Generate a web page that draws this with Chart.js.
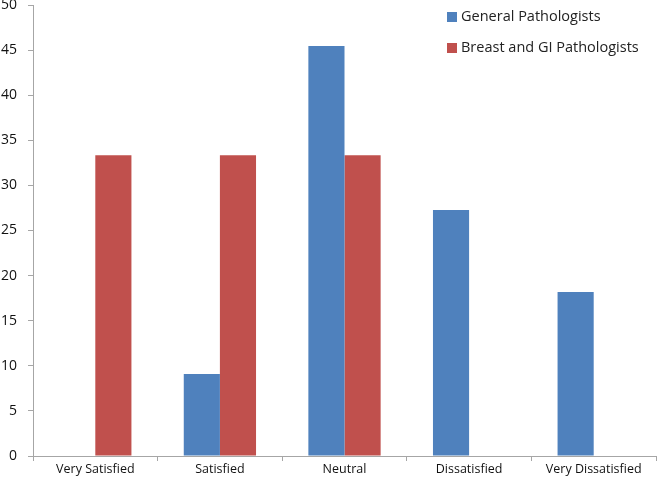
<!DOCTYPE html>
<html>
<head>
<meta charset="utf-8">
<script src="https://cdn.jsdelivr.net/npm/chart.js@4/dist/chart.umd.min.js"></script>
<style>
    html, body { margin: 0; padding: 0; background: #fff; }
    #wrap { width: 660px; height: 482px; }
</style>
</head>
<body>
<div id="wrap"><canvas id="satisfactionChart"></canvas></div>
<script>
const categories = ['Very Satisfied', 'Satisfied', 'Neutral', 'Dissatisfied', 'Very Dissatisfied'];
const generalValues = [0, 9.09, 45.45, 27.27, 18.18];
const breastGiValues = [33.33, 33.33, 33.33, 0, 0];
const seriesNames = ['General Pathologists', 'Breast and GI Pathologists'];
const seriesColors = ['#4F81BD', '#C0504D'];

// legend drawn in the top right corner, over the plot
const cornerLegend = {
    id: 'cornerLegend',
    afterDraw(chart) {
        const ctx = chart.ctx;
        ctx.save();
        ctx.font = '14.5px "Open Sans"';
        ctx.textBaseline = 'middle';
        seriesNames.forEach((name, i) => {
            const y = 17 + i * 31;
            ctx.fillStyle = seriesColors[i];
            ctx.fillRect(447, y - 5, 10, 10);
            ctx.fillStyle = '#222';
            ctx.fillText(name, 461, y);
        });
        ctx.restore();
    }
};

const ctx = document.getElementById('satisfactionChart').getContext('2d');
new Chart(ctx, {
    type: 'bar',
    data: {
        labels: categories,
        datasets: [
            {
                label: seriesNames[0],
                data: generalValues,
                backgroundColor: seriesColors[0],
                borderWidth: 0
            },
            {
                label: seriesNames[1],
                data: breastGiValues,
                backgroundColor: seriesColors[1],
                borderWidth: 0
            }
        ]
    },
    options: {
        responsive: true,
        maintainAspectRatio: false,
        animation: false,
        datasets: {
            bar: {
                categoryPercentage: 0.58,
                barPercentage: 1
            }
        },
        layout: {
            padding: { top: 5, right: 4, left: 0, bottom: 0 }
        },
        scales: {
            x: {
                afterFit(scale) {
                    scale.height = 26;
                    scale.paddingLeft = 0;
                    scale.paddingRight = 0;
                },
                border: { display: true, color: '#a6a6a6' },
                grid: {
                    drawOnChartArea: false,
                    drawTicks: true,
                    tickLength: 5,
                    color: '#a6a6a6'
                },
                ticks: {
                    color: '#111',
                    padding: 1,
                    maxRotation: 0,
                    font: { family: 'Open Sans', size: 12.5 }
                }
            },
            y: {
                min: 0,
                max: 50,
                afterFit(scale) {
                    scale.width = 33;
                    scale.paddingTop = 0;
                    scale.paddingBottom = 0;
                },
                border: { display: true, color: '#a6a6a6' },
                grid: {
                    drawOnChartArea: false,
                    drawTicks: true,
                    tickLength: 5,
                    color: '#a6a6a6'
                },
                ticks: {
                    stepSize: 5,
                    color: '#111',
                    padding: 11,
                    font: { family: 'Open Sans', size: 14 }
                }
            }
        },
        plugins: {
            legend: { display: false },
            tooltip: { enabled: false }
        }
    },
    plugins: [cornerLegend]
});
</script>
</body>
</html>
